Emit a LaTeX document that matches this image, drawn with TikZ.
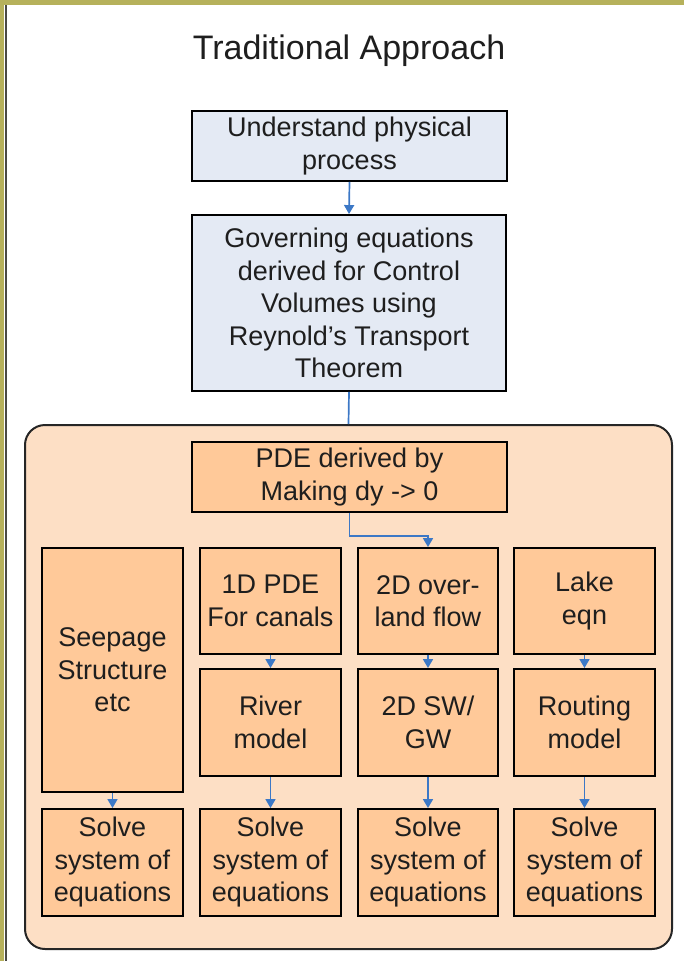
\documentclass[tikz,border=0pt]{standalone}
\usepackage{fontspec}
\setmainfont{Liberation Sans}
\usetikzlibrary{arrows.meta}

\definecolor{framegold}{HTML}{B6B15B}
\definecolor{framedark}{HTML}{4A4A44}
\definecolor{paleblue}{HTML}{E4EAF4}
\definecolor{panelpeach}{HTML}{FDDFC5}
\definecolor{boxpeach}{HTML}{FFC999}
\definecolor{linkblue}{HTML}{3C78C6}
\definecolor{inkgray}{HTML}{1E1E1E}

\begin{document}
\begin{tikzpicture}[x=1pt,y=-1pt,
  boxtext/.style={align=center, text=inkgray, inner sep=0pt,
    font=\fontsize{27}{32.5}\selectfont},
  bluebox/.style={boxtext, draw=black, line width=1.9pt, fill=paleblue},
  peachbox/.style={boxtext, draw=black, line width=1.9pt, fill=boxpeach},
  panelbox/.style={draw=black!85, line width=2pt, fill=panelpeach, rounded corners=20pt},
  link/.style={draw=linkblue, line width=1.7pt},
  flow/.style={link, -{Triangle[width=10pt,length=9pt]}},
]
\useasboundingbox (0,0) rectangle (684,961);

% page frame
\fill[framegold] (0,0) rectangle (684,5);
\fill[framegold] (0,0) rectangle (4,961);
\fill[framedark] (5,5) rectangle (7,961);

% title
\node[text=inkgray, font=\fontsize{34}{40}\selectfont] (title) at (349,51) {Traditional Approach};

% upper stages
\node[bluebox, minimum width=315pt, minimum height=70pt] (und) at (349.5,146)
  {Understand physical\\process};
\node[bluebox, minimum width=314pt, minimum height=176pt] (gov) at (349,303)
  {Governing equations\\derived for Control\\Volumes using\\Reynold’s Transport\\Theorem};

% panel holding the PDE branches
\node[panelbox, minimum width=647pt, minimum height=524pt] (panel) at (348.5,687) {};

\node[peachbox, minimum width=315pt, minimum height=70pt] (pde) at (349.5,477)
  {PDE derived by\\Making dy -> 0};

% first row
\node[peachbox, minimum width=141pt, minimum height=244pt] (seep) at (112.5,670)
  {Seepage\\Structure\\etc};
\node[peachbox, minimum width=141pt, minimum height=106pt] (one) at (270.5,601)
  {1D PDE\\For canals};
\node[peachbox, minimum width=140pt, minimum height=106pt] (over) at (428,601)
  {2D over-\\land flow};
\node[peachbox, minimum width=141pt, minimum height=106pt] (lake) at (584.5,601)
  {Lake\\eqn};

% second row
\node[peachbox, minimum width=141pt, minimum height=107pt] (river) at (270.5,722.5)
  {River\\model};
\node[peachbox, minimum width=140pt, minimum height=107pt] (swgw) at (428,722.5)
  {2D SW/\\GW};
\node[peachbox, minimum width=141pt, minimum height=107pt] (route) at (584.5,722.5)
  {Routing\\model};

% solvers
\node[peachbox, minimum width=141pt, minimum height=107pt] (solA) at (112.5,862.5)
  {Solve\\system of\\equations};
\node[peachbox, minimum width=141pt, minimum height=107pt] (solB) at (270.5,862.5)
  {Solve\\system of\\equations};
\node[peachbox, minimum width=140pt, minimum height=107pt] (solC) at (428,862.5)
  {Solve\\system of\\equations};
\node[peachbox, minimum width=141pt, minimum height=107pt] (solD) at (584.5,862.5)
  {Solve\\system of\\equations};

% connectors
\draw[flow] (und.south) -- (gov.north);
\draw[link] (gov.south) -- (panel.north);
\draw[flow] (pde.south) -- ++(0,23) -| (over.north);

\draw[flow] (one.south) -- (river.north);
\draw[flow] (over.south) -- (swgw.north);
\draw[flow] (lake.south) -- (route.north);

\draw[flow] (seep.south) -- (solA.north);
\draw[flow] (river.south) -- (solB.north);
\draw[flow] (swgw.south) -- (solC.north);
\draw[flow] (route.south) -- (solD.north);
\end{tikzpicture}
\end{document}
